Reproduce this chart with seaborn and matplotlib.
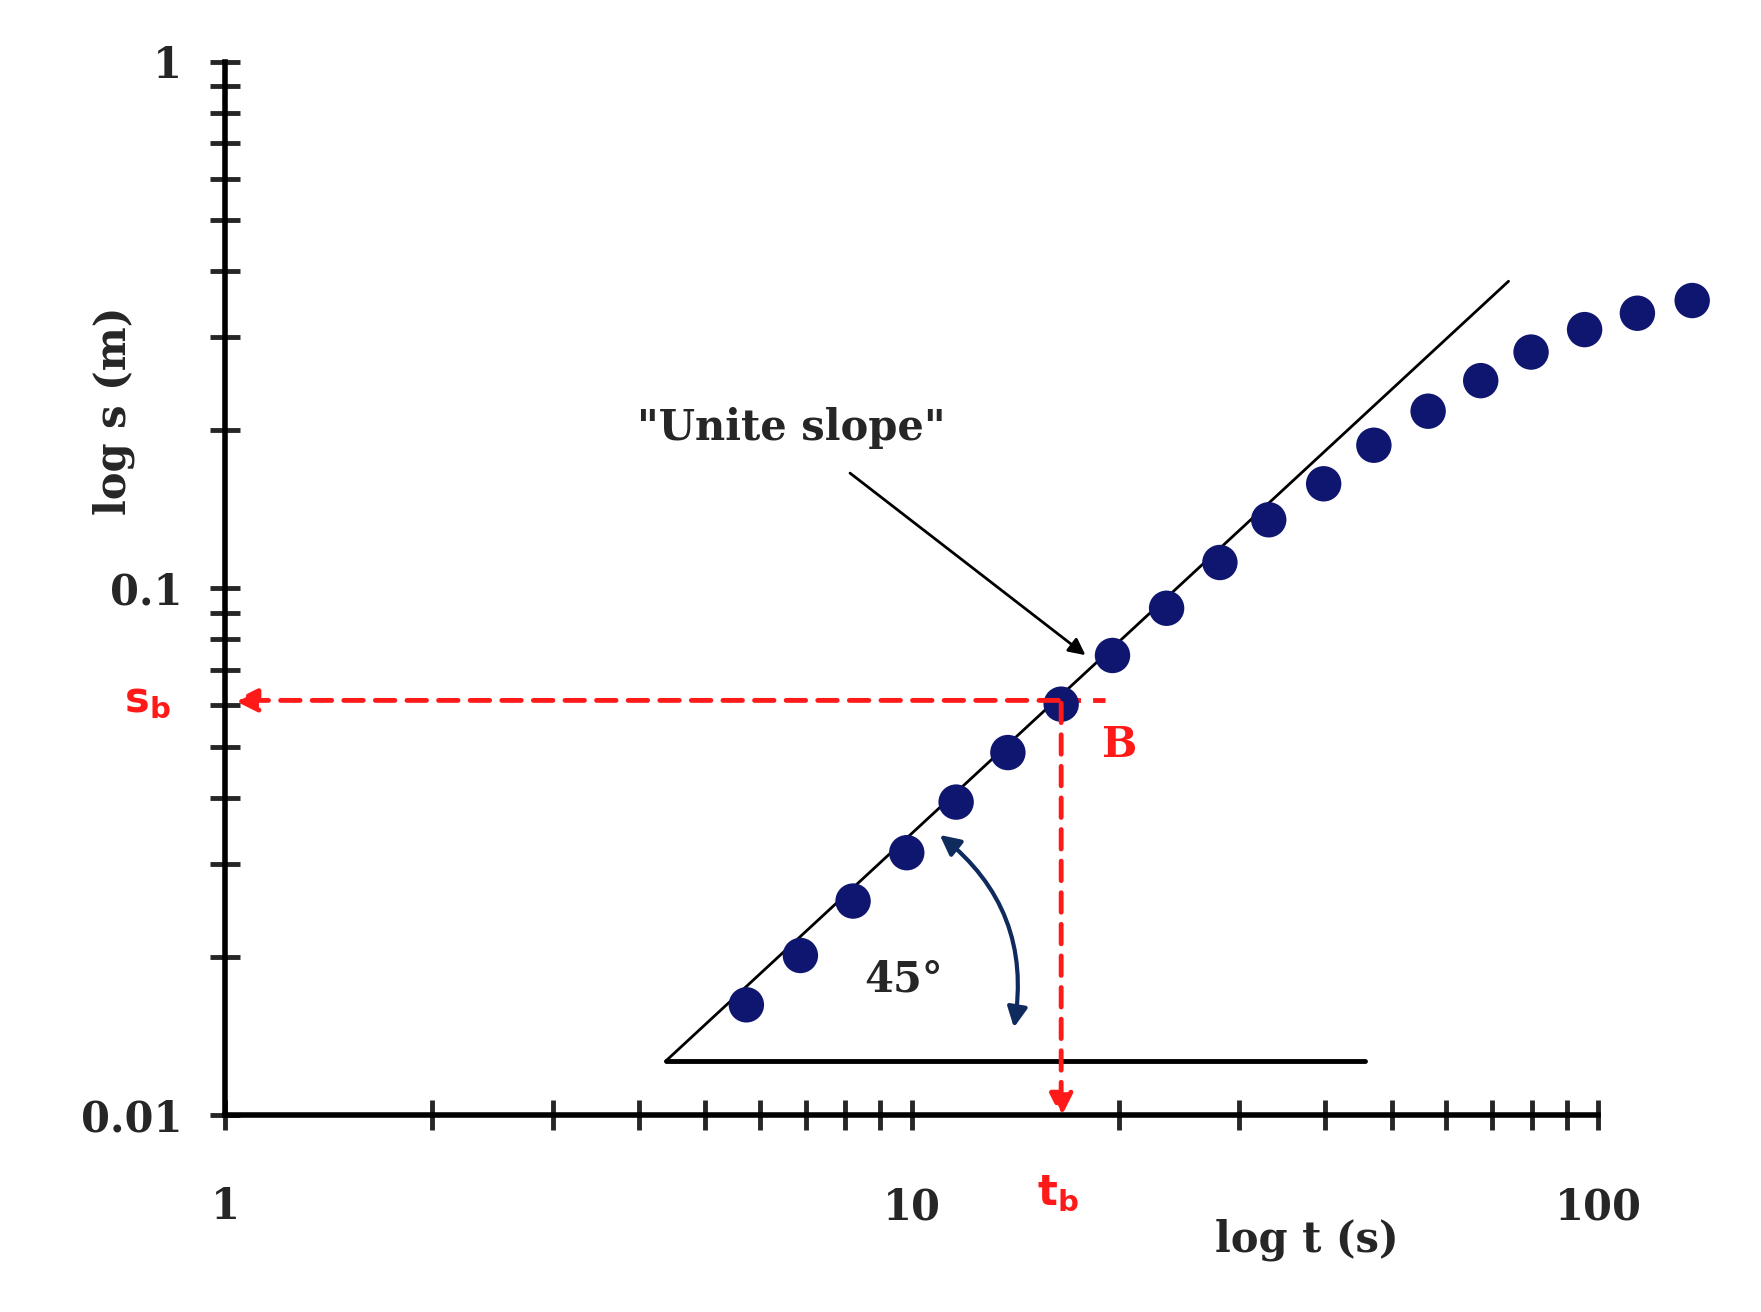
import matplotlib
matplotlib.use("Agg")
import matplotlib.pyplot as plt
import seaborn as sns
import numpy as np
from matplotlib.ticker import FixedLocator, LogLocator, NullFormatter

# drawdown data
t_obs = [5.74, 6.88, 8.21, 9.83, 11.6, 13.8, 16.5, 19.6, 23.5, 28.1, 33.1, 39.8,
         47.1, 56.5, 67.4, 79.8, 95.5, 114, 137]
s_obs = [0.0162, 0.0201, 0.0255, 0.0315, 0.0393, 0.0488, 0.0603, 0.0746, 0.0917,
         0.112, 0.135, 0.158, 0.187, 0.217, 0.248, 0.281, 0.310, 0.333, 0.352]
slope_t = [4.38, 74.0]
slope_s = [0.01267, 0.383]
base_t = [4.38, 45.7]
t_b, s_b = 16.5, 0.0613
x_ticks = [1, 10, 100]
y_ticks = [0.01, 0.1, 1]

sns.set_style("white")
plt.rcParams['font.family'] = ['DejaVu Serif']
plt.rcParams['font.weight'] = 'bold'

fig = plt.figure(figsize=(17.61, 13.12), dpi=100)
ax = fig.add_axes([0.128, 0.15, 0.846, 0.803])

sns.lineplot(x=slope_t, y=slope_s, ax=ax, color='black', linewidth=2)
sns.lineplot(x=base_t, y=[slope_s[0]] * 2, ax=ax, color='black', linewidth=3.5)
sns.scatterplot(x=t_obs, y=s_obs, ax=ax, color='#0f1670', s=650, edgecolor='none', zorder=3)

ax.set_xscale('log')
ax.set_yscale('log')
ax.set_xlim(1, 148)
ax.set_ylim(0.01, 1)

red = '#ff1a1a'
ax.plot([t_b, 19.1], [s_b, s_b], color=red, lw=3.5, ls=(0, (4, 2.5)))
ax.annotate('', xy=(1.02, s_b), xytext=(t_b, s_b),
            arrowprops=dict(arrowstyle='-|>', color=red, lw=3.5, ls=(0, (4, 2.5)), mutation_scale=35))
ax.annotate('', xy=(t_b, 0.0098), xytext=(t_b, s_b), annotation_clip=False,
            arrowprops=dict(arrowstyle='-|>', color=red, lw=3.5, ls=(0, (4, 2.5)), mutation_scale=35))

fs = 30
ax.annotate('"Unite slope"', xy=(17.9, 0.0747), xytext=(6.67, 0.202), fontsize=fs,
            ha='center', va='center', fontweight='bold',
            arrowprops=dict(arrowstyle='-|>', color='black', lw=2, mutation_scale=25,
                            shrinkA=25, shrinkB=0))
ax.annotate('', xy=(14.06, 0.0145), xytext=(10.9, 0.0343),
            arrowprops=dict(arrowstyle='<|-|>', color='#0f2a5c', lw=3, mutation_scale=30,
                            connectionstyle='arc3,rad=-0.3'))
ax.text(9.72, 0.0181, '45°', fontsize=fs, ha='center', va='center', fontweight='bold')
ax.text(0.769, s_b, r'$\mathbf{s_b}$', color=red, fontsize=fs, ha='center', va='center')
ax.text(20.1, 0.0504, 'B', color=red, fontsize=fs, ha='center', va='center', fontweight='bold')
ax.text(16.3, 0.0071, r'$\mathbf{t_b}$', color=red, fontsize=fs, ha='center', va='center')
ax.text(37.6, 0.0058, 'log t (s)', fontsize=fs, ha='center', va='center', fontweight='bold')
ax.text(0.687, 0.217, 'log s (m)', fontsize=fs, ha='center', va='center', rotation=90,
        fontweight='bold')

for side in ['top', 'right']:
    ax.spines[side].set_visible(False)
ax.spines['bottom'].set_bounds(1, 100)
ax.spines['bottom'].set_linewidth(4)
ax.spines['left'].set_linewidth(4)
ax.spines['bottom'].set_color('black')
ax.spines['left'].set_color('black')

ax.xaxis.set_major_locator(FixedLocator(x_ticks))
ax.set_xticklabels(['1', '10', '100'])
ax.xaxis.set_minor_locator(LogLocator(base=10, subs=np.arange(2, 10), numticks=20))
ax.xaxis.set_minor_formatter(NullFormatter())
ax.yaxis.set_major_locator(FixedLocator(y_ticks))
ax.set_yticklabels(['0.01', '0.1', '1'])
ax.yaxis.set_minor_locator(LogLocator(base=10, subs=np.arange(2, 10), numticks=20))
ax.yaxis.set_minor_formatter(NullFormatter())
ax.tick_params(axis='both', which='both', direction='inout', length=22, width=3.5,
               labelsize=fs, bottom=True, left=True)
ax.tick_params(axis='x', which='major', pad=40)
ax.tick_params(axis='y', which='major', pad=20)
for lab in ax.get_xticklabels() + ax.get_yticklabels():
    lab.set_fontweight('bold')

fig.savefig('out.png', dpi=100)
